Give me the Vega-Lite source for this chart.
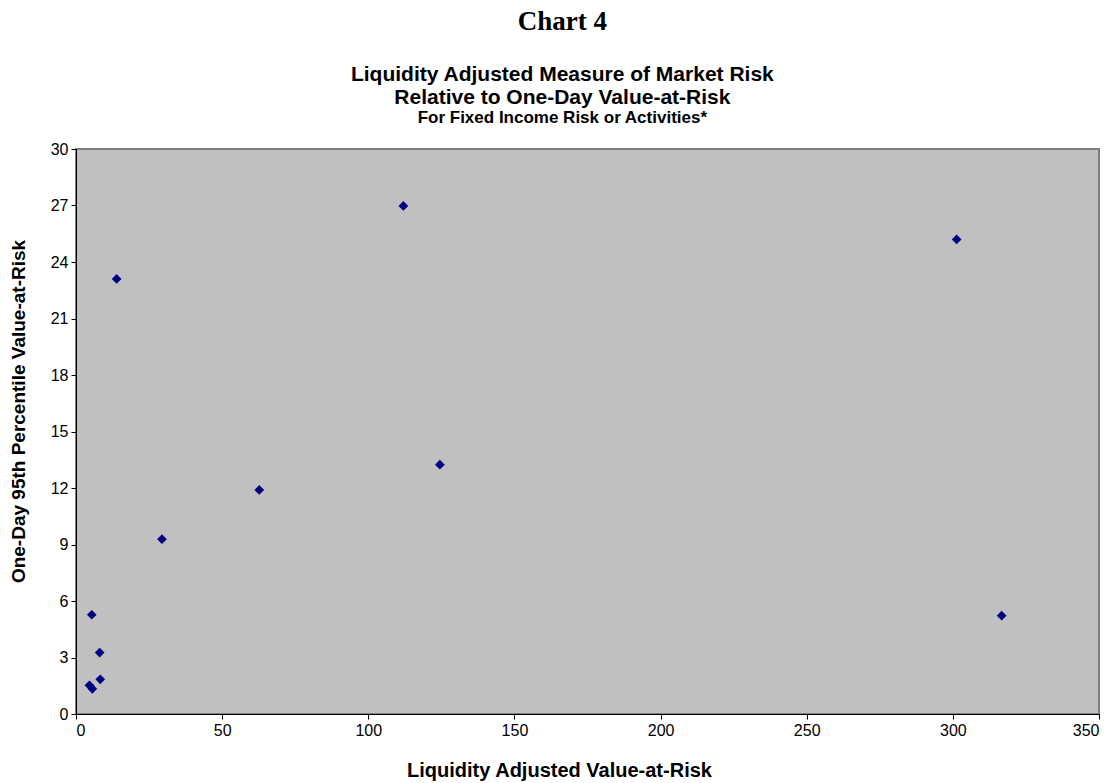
{
  "$schema": "https://vega.github.io/schema/vega-lite/v6.json",
  "background": "white",
  "padding": {"left": 8, "top": 8, "right": 5, "bottom": 2},
  "title": {
    "text": "Chart 4",
    "font": "Liberation Serif",
    "fontSize": 27,
    "fontWeight": "bold",
    "color": "black",
    "anchor": "middle",
    "frame": "bounds",
    "dx": 8,
    "offset": 27
  },
  "vconcat": [
    {
      "width": 1023,
      "height": 565,
      "title": {
        "text": ["Liquidity Adjusted Measure of Market Risk", "Relative to One-Day Value-at-Risk"],
        "subtitle": "For Fixed Income Risk or Activities*",
        "font": "Liberation Sans",
        "fontSize": 21,
        "fontWeight": "bold",
        "lineHeight": 23,
        "subtitleFont": "Liberation Sans",
        "subtitleFontSize": 17,
        "subtitleFontWeight": "bold",
        "subtitleColor": "black",
        "subtitlePadding": 2,
        "color": "black",
        "anchor": "middle",
        "frame": "bounds",
        "dx": 8,
        "offset": 15
      },
      "data": {
        "values": [
          {"lvar": 5.4, "var": 5.27},
          {"lvar": 8.1, "var": 3.26},
          {"lvar": 8.3, "var": 1.84},
          {"lvar": 4.6, "var": 1.52},
          {"lvar": 5.6, "var": 1.34},
          {"lvar": 13.9, "var": 23.1},
          {"lvar": 29.4, "var": 9.28},
          {"lvar": 62.7, "var": 11.9},
          {"lvar": 112.0, "var": 26.98},
          {"lvar": 124.5, "var": 13.24},
          {"lvar": 301.3, "var": 25.2},
          {"lvar": 316.7, "var": 5.22}
        ]
      },
      "mark": {"type": "point", "shape": "diamond", "filled": true, "color": "#000080", "size": 95, "opacity": 1},
      "encoding": {
        "x": {
          "field": "lvar",
          "type": "quantitative",
          "scale": {"domain": [0, 350], "nice": false, "zero": true},
          "axis": {"values": [0, 50, 100, 150, 200, 250, 300, 350], "title": "Liquidity Adjusted Value-at-Risk", "titlePadding": 22, "titleX": 483, "titleFontSize": 20}
        },
        "y": {
          "field": "var",
          "type": "quantitative",
          "scale": {"domain": [0, 30], "nice": false},
          "axis": {"values": [0, 3, 6, 9, 12, 15, 18, 21, 24, 27, 30], "title": "One-Day 95th Percentile Value-at-Risk", "titlePadding": 22, "titleY": 262}
        }
      }
    }
  ],
  "config": {
    "view": {"fill": "#C0C0C0", "stroke": "#808080", "strokeWidth": 2},
    "axis": {
      "grid": false,
      "domainColor": "black",
      "domainWidth": 1,
      "tickColor": "black",
      "tickSize": 5,
      "labelFont": "Liberation Sans",
      "labelFontSize": 16,
      "labelColor": "black",
      "labelPadding": 3,
      "titleFont": "Liberation Sans",
      "titleFontSize": 19,
      "titleFontWeight": "bold",
      "titleColor": "black"
    }
  }
}
